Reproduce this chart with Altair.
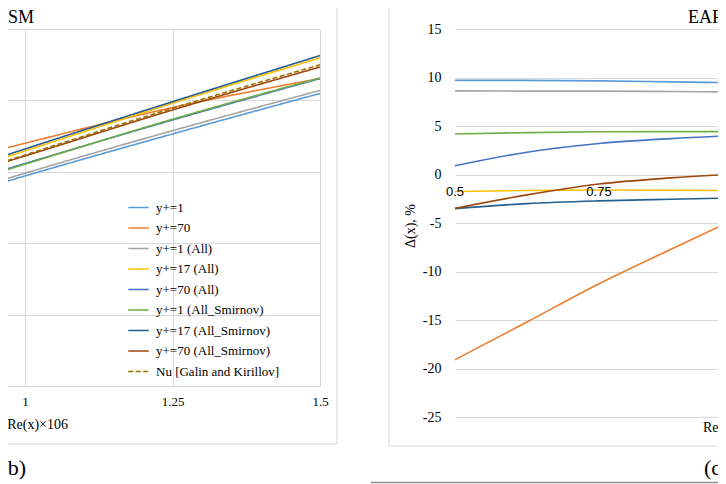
import altair as alt
import pandas as pd

# ---------------- data ----------------
series = ["y+=1", "y+=70", "y+=1 (All)", "y+=17 (All)", "y+=70 (All)",
          "y+=1 (All_Smirnov)", "y+=17 (All_Smirnov)", "y+=70 (All_Smirnov)",
          "Nu [Galin and Kirillov]"]
colors = ["#5B9BD5", "#ED7D31", "#A5A5A5", "#FFC000", "#4472C4",
          "#70AD47", "#255E91", "#9E480E", "#997300"]
dash_patterns = [[1, 0]] * 8 + [[5, 2.5]]
widths = [1.6] * 8 + [2.6]

# left panel: Nu vs Re(x)x10^6
re_nu = [0.5, 0.75, 1.0, 1.25, 1.5]
nu_y1 = [839, 1160, 1471, 1765, 2049]
nu_y70 = [1106, 1430, 1700, 1950, 2153]
nu_y1_all = [849, 1174, 1490, 1788, 2070]
nu_y17_all = [946, 1306, 1646, 1980, 2298]
nu_y70_all = [921, 1244, 1558, 1863, 2153]
nu_y1_sm = [890, 1228, 1553, 1868, 2157]
nu_y17_sm = [962, 1320, 1660, 1991, 2314]
nu_y70_sm = [962, 1298, 1611, 1933, 2234]
nu_galin = [929, 1285, 1618, 1945, 2249]

# right panel: deviation, %
re_dev = [0.5, 0.625, 0.75, 0.875, 1.0]
dev_y1 = [9.7, 9.7, 9.65, 9.55, 9.45]
dev_y70 = [-19.1, -15.2, -11.26, -7.7, -4.2]
dev_y1_all = [8.62, 8.6, 8.6, 8.55, 8.5]
dev_y17_all = [-1.75, -1.65, -1.6, -1.62, -1.67]
dev_y70_all = [0.9, 2.3, 3.2, 3.7, 4.05]
dev_y1_sm = [4.18, 4.32, 4.4, 4.42, 4.42]
dev_y17_sm = [-3.52, -3.0, -2.72, -2.55, -2.4]
dev_y70_sm = [-3.49, -2.1, -0.98, -0.35, 0.1]

left_x_ticks = [0.75, 1.0, 1.25, 1.5]
nu_ticks = [0, 500, 1000, 1500, 2000, 2500]
right_x_ticks = [0.5, 0.75, 1.0, 1.25, 1.5]
right_x_labels = ["0.5", "0.75", "1", "1.25", "1.5"]
dev_ticks = [-25, -20, -15, -10, -5, 0, 5, 10, 15]

title_left = "EARSM"
title_right = "EARSM"
x_title = "Re(x)×106"
y_title_right = "Δ(x), %"
label_left = "(b)"
label_right = "(c)"

# ---------------- layout constants ----------------
W_L, H_L = 590, 357
W_R, H_R = 576, 388
grid = "#D9D9D9"
serif = "Liberation Serif"
ink = "#000000"


def long_df(xs, names, vals):
    rows = []
    for n, vs in zip(names, vals):
        for x, v in zip(xs, vs):
            rows.append({"re": x, "val": v, "series": n})
    return pd.DataFrame(rows)


nu_df = long_df(re_nu, series,
                [nu_y1, nu_y70, nu_y1_all, nu_y17_all, nu_y70_all,
                 nu_y1_sm, nu_y17_sm, nu_y70_sm, nu_galin])
dev_df = long_df(re_dev, series[:8],
                 [dev_y1, dev_y70, dev_y1_all, dev_y17_all, dev_y70_all,
                  dev_y1_sm, dev_y17_sm, dev_y70_sm])

one = pd.DataFrame({"k": [0]})

legend = alt.Legend(orient="none", legendX=397, legendY=167, title=None,
                    symbolType="stroke", symbolSize=420, labelFont=serif,
                    labelFontSize=13, labelColor=ink, rowPadding=1.5,
                    labelOffset=6, padding=0, labelLimit=400)

color_scale = alt.Scale(domain=series, range=colors)
dash_scale = alt.Scale(domain=series, range=dash_patterns)
width_scale = alt.Scale(domain=series, range=widths)

# ---------------- left panel ----------------
left_lines = alt.Chart(nu_df).mark_line(interpolate="monotone").encode(
    x=alt.X("re:Q", scale=alt.Scale(domain=[0.5, 1.5], nice=False, zero=False),
            axis=alt.Axis(values=left_x_ticks, format=".3~g", grid=True, gridColor=grid,
                          domain=True, domainColor=grid, ticks=False, labelPadding=9,
                          labelFlush=False, labelFont=serif, labelFontSize=13,
                          labelColor=ink, title=None)),
    y=alt.Y("val:Q", scale=alt.Scale(domain=[0, 2500], nice=False, zero=False),
            axis=alt.Axis(values=nu_ticks, grid=True, gridColor=grid, labels=False,
                          ticks=False, domain=False, title=None)),
    color=alt.Color("series:N", scale=color_scale, sort=series, legend=legend),
    strokeDash=alt.StrokeDash("series:N", scale=dash_scale, sort=series, legend=legend),
    strokeWidth=alt.StrokeWidth("series:N", scale=width_scale, sort=series, legend=legend),
    order=alt.Order("series:N"),
)

left_title = alt.Chart(one).mark_text(text=title_left, font=serif, fontSize=18, color=ink,
                                      align="right", baseline="middle").encode(
    x=alt.value(304), y=alt.value(-11.5))
left_xtitle = alt.Chart(one).mark_text(text=x_title, font=serif, fontSize=14, color=ink,
                                       align="right", baseline="middle").encode(
    x=alt.value(338), y=alt.value(396))
left_tag = alt.Chart(one).mark_text(text=label_left, font=serif, fontSize=22, color=ink,
                                    align="right", baseline="middle").encode(
    x=alt.value(296), y=alt.value(439))
left_frame_v = alt.Chart(one).mark_rule(color=grid, strokeWidth=1).encode(
    x=alt.value(607), y=alt.value(-40), y2=alt.value(415))
left_frame_h = alt.Chart(one).mark_rule(color=grid, strokeWidth=1).encode(
    x=alt.value(10), x2=alt.value(607), y=alt.value(415))

left = alt.layer(left_frame_v, left_frame_h, left_lines, left_title, left_xtitle,
                 left_tag).properties(width=W_L, height=H_L)

# ---------------- right panel ----------------
xr_scale = alt.Scale(domain=[0.5, 1.5], nice=False, zero=False)
right_lines = alt.Chart(dev_df).mark_line(interpolate="monotone", strokeWidth=1.6).encode(
    x=alt.X("re:Q", scale=xr_scale,
            axis=alt.Axis(values=right_x_ticks, grid=True, gridColor=grid, labels=False,
                          ticks=False, domain=False, title=None)),
    y=alt.Y("val:Q", scale=alt.Scale(domain=[-25, 15], nice=False, zero=False),
            axis=alt.Axis(values=dev_ticks, grid=True, gridColor=grid, ticks=False,
                          domain=False, labelPadding=14, labelFont=serif, labelFontSize=14,
                          labelColor=ink, title=None,
                          labelExpr="datum.value < 0 ? '-' + abs(datum.value) : '' + datum.value")),
    color=alt.Color("series:N", scale=color_scale, sort=series, legend=None),
)

xr_labels_df = pd.DataFrame({"v": right_x_ticks, "t": right_x_labels})
right_xlabels = alt.Chart(xr_labels_df).mark_text(font="Liberation Sans", fontSize=13,
                                                  color=ink, baseline="middle",
                                                  align="center").encode(
    x=alt.X("v:Q", scale=xr_scale, axis=None), y=alt.value(163), text="t:N")

right_title = alt.Chart(one).mark_text(text=title_right, font=serif, fontSize=18, color=ink,
                                       align="left", baseline="middle").encode(
    x=alt.value(233), y=alt.value(-11.5))
right_xtitle = alt.Chart(one).mark_text(text=x_title, font=serif, fontSize=14, color=ink,
                                        align="left", baseline="middle").encode(
    x=alt.value(248), y=alt.value(399))
right_ytitle = alt.Chart(one).mark_text(text=y_title_right, font=serif, fontSize=14, color=ink,
                                        align="center", baseline="middle", angle=270).encode(
    x=alt.value(-44), y=alt.value(197))
right_tag = alt.Chart(one).mark_text(text=label_right, font=serif, fontSize=22, color=ink,
                                     align="left", baseline="middle").encode(
    x=alt.value(249), y=alt.value(439))
right_frame_v = alt.Chart(one).mark_rule(color=grid, strokeWidth=1).encode(
    x=alt.value(-66), y=alt.value(-40), y2=alt.value(417))
right_frame_h = alt.Chart(one).mark_rule(color=grid, strokeWidth=1).encode(
    x=alt.value(-66), x2=alt.value(570), y=alt.value(417))
right_sep = alt.Chart(one).mark_rule(color="#8C8C8C", strokeWidth=1.5).encode(
    x=alt.value(-84), x2=alt.value(570), y=alt.value(453.5))

right = alt.layer(right_frame_v, right_frame_h, right_sep, right_lines, right_xlabels,
                  right_title, right_xtitle, right_ytitle, right_tag).properties(
    width=W_R, height=H_R)

chart = alt.hconcat(left, right, spacing=135, bounds="flush").resolve_scale(
    x="independent", y="independent", color="independent",
    strokeDash="independent", strokeWidth="independent"
).properties(
    padding={"left": -282, "top": -20, "right": -323, "bottom": 0},
    background="white",
).configure_view(stroke=None)

chart.save("out.html", embed_options={"renderer": "svg", "actions": False})
